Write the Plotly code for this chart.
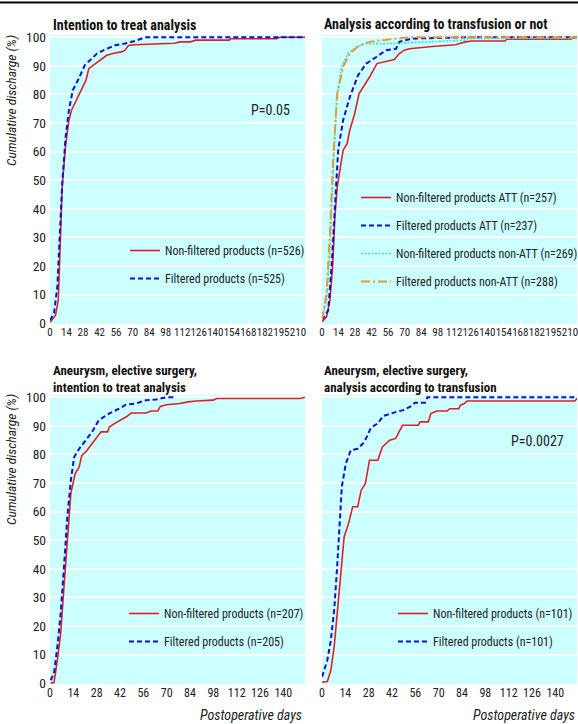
import plotly.graph_objects as go

# ---------------- data ----------------
# Panel A: intention to treat analysis
itt_nf_days = [0, 0.5, 4.7, 7, 8.4, 10.3, 13.1, 16, 18.2, 24.4, 30.5, 32.8, 41, 48, 55, 60.5, 63.6, 66.4, 72, 83, 105.6, 110, 119, 123.5, 151.8, 153, 192, 194.7, 216]
itt_nf_pct = [0.5, 0.5, 2.8, 8, 24.4, 47.7, 61.7, 71, 74.5, 79.7, 85, 89, 91.4, 93.7, 94.5, 94.9, 95.5, 97.1, 97.4, 97.6, 97.9, 98.4, 98.4, 99, 99, 99.5, 99.5, 100, 100]
itt_f_days = [0, 3.4, 6.2, 8.4, 10.4, 13.2, 16, 19.3, 24.4, 29.4, 34.2, 39.8, 48.2, 55.2, 63.6, 72, 80.4, 216]
itt_f_pct = [1, 3.5, 12.6, 30, 49, 65, 74.5, 81.5, 85.6, 90.2, 92, 94.3, 96, 97.2, 97.8, 98.7, 100, 100]

# Panel B: analysis according to transfusion or not
att_nf_days = [0, 3.9, 6.7, 9, 10.9, 12.9, 17.9, 21.3, 23.5, 27.7, 31.4, 40.3, 46.5, 54.3, 61.3, 65.5, 69.7, 73.9, 85, 93.5, 113, 121.5, 127, 155, 156.5, 210, 216]
att_nf_pct = [0.5, 2.2, 8, 19.7, 37, 47.7, 60.5, 62.8, 67.5, 73.3, 80.3, 86.1, 90.8, 91.4, 92.2, 94.3, 95.5, 96, 96.6, 96.8, 97.4, 98.4, 98.7, 98.7, 99.3, 99.3, 100]
att_f_days = [0, 5.3, 8.1, 11, 13.7, 17.9, 23.5, 30.5, 37.5, 46, 54.3, 62.7, 65.5, 74, 79.5, 124, 216]
att_f_pct = [1, 4.5, 19.7, 43, 60.5, 71, 79, 86.7, 90.8, 93.1, 95.5, 96, 98.4, 99.3, 99.6, 100, 100]
natt_nf_days = [0, 3.9, 6.7, 9.5, 12.3, 16.5, 22, 29, 37.5, 57, 93, 122, 124, 216]
natt_nf_pct = [2, 8, 25.5, 54.7, 78, 89.7, 94.3, 96.6, 97.8, 97.8, 98.4, 99, 99.6, 99.6]
natt_f_days = [0, 3.9, 6.7, 9.5, 12.9, 17.9, 23.5, 31.9, 40.3, 54.3, 62.7, 75, 216]
natt_f_pct = [1, 10.5, 31.5, 58, 80.3, 89.7, 94.3, 97.2, 98.4, 99.2, 99.6, 100, 100]

# Panel C: aneurysm, elective surgery, intention to treat analysis
an_itt_nf_days = [0.4, 2.4, 4.4, 6.4, 8.4, 10.4, 12.5, 15.1, 17.5, 19.1, 21.9, 24.5, 27.6, 30.6, 34.6, 35.6, 38.6, 42.6, 45.6, 48.7, 57.7, 60.7, 64.7, 66.2, 69.8, 77.8, 82.8, 87.9, 97.9, 100, 150, 153]
an_itt_nf_pct = [0, 0.2, 8, 17.4, 33.7, 50, 66.4, 73.3, 75.6, 79.7, 81.2, 83.2, 85.6, 87.9, 87.9, 89.6, 90.8, 92.2, 93.1, 94.5, 94.5, 95.2, 95.2, 96.8, 97.4, 97.8, 98.4, 98.7, 99, 99.6, 99.6, 100]
an_itt_f_days = [0.4, 2.4, 4.4, 6.4, 8.4, 10.4, 12.5, 14.5, 17.5, 21.3, 25.3, 29.3, 35.4, 41.4, 45.5, 51.5, 57.6, 63.6, 69.7, 75.7]
an_itt_f_pct = [1, 3.5, 12.7, 24.4, 40.7, 58.2, 71, 79.1, 82, 85, 87.9, 92, 94.3, 96, 97.4, 97.8, 99, 99.2, 100, 100]

# Panel D: aneurysm, elective surgery, analysis according to transfusion
an_att_nf_days = [0, 3.2, 5.3, 7.3, 9.3, 11.3, 13.3, 15.9, 18.4, 21.4, 23.5, 26, 28.5, 33.5, 36.2, 40.6, 44.2, 48.3, 57.8, 58.8, 63.8, 65.3, 68.9, 75, 76.6, 82, 83, 85.4, 87, 151.7, 153.8]
an_att_nf_pct = [0.3, 0.6, 4.5, 12.7, 25.5, 38.3, 51.2, 55.8, 61.7, 61.7, 67.5, 69.8, 78, 78, 82.6, 85, 85.6, 90.2, 90.2, 91.4, 91.4, 94.3, 95.2, 95.2, 96, 96, 97.2, 97.8, 98.7, 98.7, 100]
an_att_f_days = [0, 3.2, 5.3, 7.3, 9, 10.3, 11.9, 14.3, 17.3, 21.4, 25.4, 29.5, 33.5, 36.5, 40.6, 44.6, 48.7, 52.7, 55.8, 61.8, 63.2, 154]
an_att_f_pct = [2.2, 8, 15, 25.5, 39.9, 54.7, 68.7, 76.8, 81.5, 82, 84.3, 89.5, 90.8, 93.4, 94.3, 94.9, 95.5, 96.6, 98.1, 98.1, 100, 100]

top_tickvals = [0, 14, 28, 42, 56, 70, 84, 98, 112, 126, 140, 154, 168, 182, 196, 210]
top_ticktext = ["0", "14", "28", "42", "56", "70", "84", "98", "112", "126", "140", "154", "168", "182", "195", "210"]
bottom_tickvals = [0, 14, 28, 42, 56, 70, 84, 98, 112, 126, 140]
y_tickvals = [0, 10, 20, 30, 40, 50, 60, 70, 80, 90, 100]

panel_titles = ["Intention to treat analysis",
                "Analysis according to transfusion or not",
                "Aneurysm, elective surgery,<br>intention to treat analysis",
                "Aneurysm, elective surgery,<br>analysis according to transfusion"]

# ---------------- styling ----------------
W, H = 578, 724
NARROW = "Roboto Condensed, Roboto, sans-serif"
BG = "#ccffff"
RED = "#dd2027"
BLUE = "#1010cc"
CYAN = "#40e0c8"
ORANGE = "#e49a3a"
TXT = "#222"

def px(x):
    return x / W

def py(y):
    return 1 - y / H

fig = go.Figure()

def add(x, y, name, color, dash, xa, ya, legend, width=1.6):
    fig.add_trace(go.Scatter(x=x, y=y, mode="lines", name=name,
                             line=dict(color=color, dash=dash, width=width),
                             xaxis=xa, yaxis=ya, legend=legend, legendgroup=name,
                             hoverinfo="skip"))

add(itt_nf_days, itt_nf_pct, "Non-filtered products (n=526)", RED, "solid", "x", "y", "legend")
add(itt_f_days, itt_f_pct, "Filtered products (n=525)", BLUE, "5px,3px", "x", "y", "legend", 2)

add(att_nf_days, att_nf_pct, "Non-filtered products ATT (n=257)", RED, "solid", "x2", "y2", "legend2")
add(att_f_days, att_f_pct, "Filtered products ATT (n=237)", BLUE, "5px,3px", "x2", "y2", "legend2", 2)
add(natt_nf_days, natt_nf_pct, "Non-filtered products non-ATT (n=269)", CYAN, "2px,1.5px", "x2", "y2", "legend2")
add(natt_f_days, natt_f_pct, "Filtered products non-ATT (n=288)", ORANGE, "9px,3px,2px,3px", "x2", "y2", "legend2", 2)

add(an_itt_nf_days, an_itt_nf_pct, "Non-filtered products (n=207)", RED, "solid", "x3", "y3", "legend3")
add(an_itt_f_days, an_itt_f_pct, "Filtered products (n=205)", BLUE, "5px,3px", "x3", "y3", "legend3", 2)

add(an_att_nf_days, an_att_nf_pct, "Non-filtered products (n=101)", RED, "solid", "x4", "y4", "legend4")
add(an_att_f_days, an_att_f_pct, "Filtered products (n=101)", BLUE, "5px,3px", "x4", "y4", "legend4", 2)

# domains (pixel positions converted to paper fractions)
xl = [px(50), px(305)]
xr = [px(322), px(577)]
yt = [py(324), py(35)]
yb = [py(684), py(395)]
yrange = [-0.3, 100.8]

def xaxis(domain, rng, tv, tt, anchor, fsize):
    return dict(domain=domain, range=rng, tickvals=tv, ticktext=tt, anchor=anchor,
                showgrid=False, zeroline=False, showline=False, tickangle=0,
                ticklabeloverflow="allow",
                ticks="inside", ticklen=4, tickwidth=1, tickcolor="white",
                tickfont=dict(family=NARROW, size=fsize, color=TXT), fixedrange=True)

def yaxis(domain, anchor, labels):
    return dict(domain=domain, range=yrange, tickvals=y_tickvals, anchor=anchor,
                showgrid=True, gridcolor="white", gridwidth=2, zeroline=False, showline=False,
                showticklabels=labels, ticks="", ticklabelstandoff=3,
                tickfont=dict(family=NARROW, size=13.5, color=TXT), fixedrange=True)

legend_common = dict(bgcolor="rgba(0,0,0,0)", borderwidth=0, tracegroupgap=9,
                     font=dict(family=NARROW, size=12, color=TXT),
                     xanchor="left", yanchor="top", itemclick=False)

fig.update_layout(
    width=W, height=H, margin=dict(l=0, r=0, t=0, b=0, autoexpand=False),
    paper_bgcolor="white", plot_bgcolor=BG, showlegend=True,
    xaxis=xaxis(xl, [0, 216], top_tickvals, top_ticktext, "y", 11),
    yaxis=yaxis(yt, "x", True),
    xaxis2=xaxis(xr, [0, 216], top_tickvals, top_ticktext, "y2", 11),
    yaxis2=yaxis(yt, "x2", False),
    xaxis3=xaxis(xl, [0, 153], bottom_tickvals, [str(v) for v in bottom_tickvals], "y3", 12),
    yaxis3=yaxis(yb, "x3", True),
    xaxis4=xaxis(xr, [0, 153], bottom_tickvals, [str(v) for v in bottom_tickvals], "y4", 12),
    yaxis4=yaxis(yb, "x4", False),
    legend=dict(x=px(125), y=py(236), **legend_common),
    legend2=dict(x=px(356), y=py(183), **legend_common),
    legend3=dict(x=px(124), y=py(599), **legend_common),
    legend4=dict(x=px(393), y=py(599), **legend_common),
)

# top rule
fig.add_shape(type="line", xref="paper", yref="paper", x0=0, x1=1, y0=py(2.5), y1=py(2.5),
              line=dict(color="black", width=2))

ann = []
for txt, x0, yc, fs in [(panel_titles[0], 51, 25, 14), (panel_titles[1], 322, 24, 14),
                        (panel_titles[2], 51, 379, 13), (panel_titles[3], 322, 379, 13)]:
    ann.append(dict(text="<b>" + txt + "</b>", x=px(x0), y=py(yc), xref="paper", yref="paper",
                    xanchor="left", yanchor="middle", align="left", showarrow=False,
                    font=dict(family=NARROW, size=fs, color="#111")))

for yc in [101, 460]:
    ann.append(dict(text="<i>Cumulative discharge (%)</i>", x=px(11), y=py(yc), xref="paper", yref="paper",
                    xanchor="center", yanchor="middle", textangle=-90, showarrow=False,
                    font=dict(family=NARROW, size=13.5, color=TXT)))

for xr_px in [304, 577]:
    ann.append(dict(text="<i>Postoperative days</i>", x=px(xr_px), y=py(715), xref="paper", yref="paper",
                    xanchor="right", yanchor="middle", showarrow=False,
                    font=dict(family=NARROW, size=14, color=TXT)))

ann.append(dict(text="P=0.05", x=px(292), y=py(110), xref="paper", yref="paper", xanchor="right",
                yanchor="middle", showarrow=False, font=dict(family=NARROW, size=14, color=TXT)))
ann.append(dict(text="P=0.0027", x=px(566), y=py(441), xref="paper", yref="paper", xanchor="right",
                yanchor="middle", showarrow=False, font=dict(family=NARROW, size=14, color=TXT)))

fig.update_layout(annotations=ann)

# remove the default page margin so the 578x724 figure fills the window exactly
fig.write_html("out.html", config={"displayModeBar": False},
               post_script="document.body.style.margin='0';")
